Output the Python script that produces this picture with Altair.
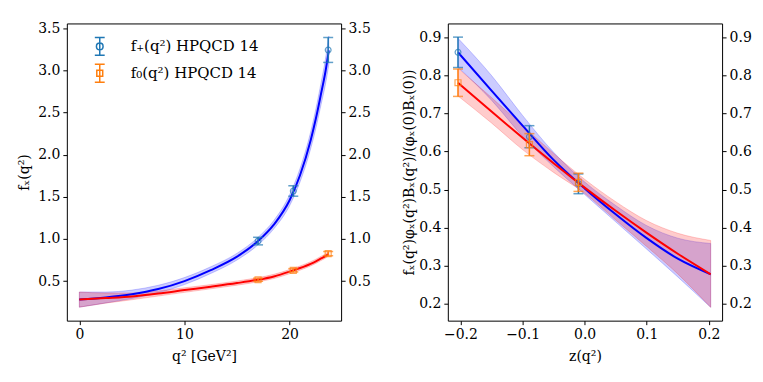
import altair as alt
import pandas as pd

# ---------------- data ----------------
# Left panel: form factors vs q^2
q2_grid = [0, 2.5, 5, 7.5, 10, 12.5, 15, 17, 18.5, 20, 21, 22, 22.5, 23, 23.4, 23.73]
fplus_fit = [0.28, 0.305, 0.343, 0.405, 0.50, 0.63, 0.79, 0.975, 1.17, 1.46, 1.76, 2.17, 2.43, 2.73, 2.98, 3.24]
fplus_lo = [0.19, 0.24, 0.293, 0.36, 0.458, 0.59, 0.75, 0.93, 1.12, 1.395, 1.68, 2.07, 2.315, 2.60, 2.83, 3.07]
fplus_hi = [0.37, 0.37, 0.393, 0.45, 0.542, 0.67, 0.83, 1.02, 1.22, 1.525, 1.84, 2.27, 2.545, 2.86, 3.13, 3.41]
fzero_fit = [0.28, 0.298, 0.318, 0.352, 0.393, 0.433, 0.476, 0.516, 0.555, 0.612, 0.655, 0.705, 0.735, 0.77, 0.797, 0.825]
fzero_lo = [0.19, 0.238, 0.278, 0.322, 0.366, 0.408, 0.451, 0.491, 0.53, 0.587, 0.63, 0.68, 0.71, 0.745, 0.772, 0.80]
fzero_hi = [0.37, 0.358, 0.358, 0.382, 0.42, 0.458, 0.501, 0.541, 0.58, 0.637, 0.68, 0.73, 0.76, 0.795, 0.822, 0.85]

q2_pts = [17.0, 20.35, 23.67]
fplus_pts = [0.975, 1.57, 3.245]
fplus_pts_err = [0.045, 0.062, 0.148]
fzero_pts = [0.516, 0.628, 0.826]
fzero_pts_err = [0.018, 0.02, 0.025]

# Right panel: vs z(q^2)
z_grid = [-0.204, -0.15, -0.1, -0.05, 0.0, 0.05, 0.1, 0.15, 0.203]
zplus_fit = [0.861, 0.76, 0.668, 0.578, 0.503, 0.435, 0.372, 0.318, 0.277]
zplus_lo = [0.822, 0.735, 0.64, 0.56, 0.487, 0.415, 0.343, 0.27, 0.19]
zplus_hi = [0.898, 0.80, 0.695, 0.598, 0.52, 0.458, 0.405, 0.372, 0.358]
zzero_fit = [0.781, 0.705, 0.636, 0.569, 0.505, 0.444, 0.386, 0.331, 0.277]
zzero_lo = [0.746, 0.675, 0.605, 0.545, 0.49, 0.42, 0.35, 0.278, 0.19]
zzero_hi = [0.819, 0.742, 0.668, 0.595, 0.527, 0.468, 0.418, 0.385, 0.366]

z_pts = [-0.204, -0.089, -0.010]
zplus_pts = [0.861, 0.639, 0.515]
zplus_pts_err = [0.04, 0.029, 0.026]
zzero_pts = [0.781, 0.618, 0.519]
zzero_pts_err = [0.036, 0.029, 0.024]

series_names = ["f₊(q²) HPQCD 14", "f₀(q²) HPQCD 14"]

# ---------------- styling ----------------
FONT = "'DejaVu Serif', 'Liberation Serif', serif"
FS = 14
C_PLUS = "#1f77b4"
C_ZERO = "#ff7f0e"
W, H = 275, 298

left_curve = pd.DataFrame({"x": q2_grid, "pf": fplus_fit, "plo": fplus_lo, "phi": fplus_hi,
                           "zf": fzero_fit, "zlo": fzero_lo, "zhi": fzero_hi})
right_curve = pd.DataFrame({"x": z_grid, "pf": zplus_fit, "plo": zplus_lo, "phi": zplus_hi,
                            "zf": zzero_fit, "zlo": zzero_lo, "zhi": zzero_hi})


def pts_df(x, v, e, name):
    return pd.DataFrame({"x": x, "v": v, "lo": [a - b for a, b in zip(v, e)],
                         "hi": [a + b for a, b in zip(v, e)], "series": name})


def panel(curve, pplus, pzero, xscale, yscale, xaxis, ytitle, ytickvals, with_legend, ytitle_pad):
    X = lambda: alt.X("x:Q", scale=xscale, axis=xaxis)
    yleft = alt.Axis(orient="left", values=ytickvals, format=".1f", title=ytitle,
                     titlePadding=ytitle_pad)
    yright = alt.Axis(orient="right", values=ytickvals, format=".1f", title=None)

    base = alt.Chart(curve)
    band_p = base.mark_area(fill="blue", fillOpacity=0.2, stroke="blue", strokeOpacity=0.2,
                            strokeWidth=1, interpolate="monotone").encode(
        x=X(), y=alt.Y("plo:Q", scale=yscale, axis=yleft), y2="phi:Q")
    band_z = base.mark_area(fill="red", fillOpacity=0.2, stroke="red", strokeOpacity=0.2,
                            strokeWidth=1, interpolate="monotone").encode(
        x=X(), y=alt.Y("zlo:Q", scale=yscale, axis=yright), y2="zhi:Q")
    line_p = base.mark_line(color="#0000ff", strokeWidth=2, interpolate="monotone").encode(
        x=X(), y=alt.Y("pf:Q", scale=yscale, axis=None))
    line_z = base.mark_line(color="#ff0000", strokeWidth=2, interpolate="monotone").encode(
        x=X(), y=alt.Y("zf:Q", scale=yscale, axis=None))

    layers = [band_p, band_z, line_p, line_z]
    for df, col, shape, sz in [(pplus, C_PLUS, "circle", 34), (pzero, C_ZERO, "square", 36)]:
        b = alt.Chart(df)
        layers.append(b.mark_rule(color=col, strokeWidth=1.5).encode(
            x=X(), y=alt.Y("lo:Q", scale=yscale, axis=None), y2="hi:Q"))
        layers.append(b.mark_tick(color=col, orient="horizontal", size=10, thickness=1.5).encode(
            x=X(), y=alt.Y("lo:Q", scale=yscale, axis=None)))
        layers.append(b.mark_tick(color=col, orient="horizontal", size=10, thickness=1.5).encode(
            x=X(), y=alt.Y("hi:Q", scale=yscale, axis=None)))
        layers.append(b.mark_point(color=col, shape=shape, size=sz, filled=False,
                                   strokeWidth=1.2).encode(
            x=X(), y=alt.Y("v:Q", scale=yscale, axis=None)))

    if with_legend:
        p_circle = ("M0,-1L0,1M-0.55,-1L0.55,-1M-0.55,1L0.55,1"
                    "M0.37,0A0.37,0.37,0,1,1,-0.37,0A0.37,0.37,0,1,1,0.37,0Z")
        p_square = ("M0,-1L0,1M-0.55,-1L0.55,-1M-0.55,1L0.55,1"
                    "M-0.33,-0.33L0.33,-0.33L0.33,0.33L-0.33,0.33Z")
        leg = alt.Legend(orient="none", legendX=23, legendY=13, title=None,
                         labelFont=FONT, labelFontSize=15, labelColor="black",
                         symbolSize=324, symbolStrokeWidth=1.5, symbolOpacity=1,
                         labelOffset=21, rowPadding=3, padding=0)
        both = pd.concat([pplus, pzero])
        layers.append(alt.Chart(both).mark_point(opacity=0, filled=False).encode(
            x=X(), y=alt.Y("v:Q", scale=yscale, axis=None),
            color=alt.Color("series:N", scale=alt.Scale(domain=series_names, range=[C_PLUS, C_ZERO]),
                            legend=leg, sort=series_names),
            shape=alt.Shape("series:N", scale=alt.Scale(domain=series_names, range=[p_circle, p_square]),
                            legend=leg, sort=series_names)))

    return alt.layer(*layers).resolve_axis(y="independent").properties(width=W, height=H)


left = panel(
    left_curve,
    pts_df(q2_pts, fplus_pts, fplus_pts_err, series_names[0]),
    pts_df(q2_pts, fzero_pts, fzero_pts_err, series_names[1]),
    alt.Scale(domain=[-1.19, 24.9], nice=False, zero=False),
    alt.Scale(domain=[0.03, 3.56], nice=False, zero=False),
    alt.Axis(values=[0, 10, 20], format="d", title="q² [GeV²]"),
    "fₓ(q²)", [0.5, 1.0, 1.5, 2.0, 2.5, 3.0, 3.5], True, 6)

right = panel(
    right_curve,
    pts_df(z_pts, zplus_pts, zplus_pts_err, series_names[0]),
    pts_df(z_pts, zzero_pts, zzero_pts_err, series_names[1]),
    alt.Scale(domain=[-0.2204, 0.2214], nice=False, zero=False),
    alt.Scale(domain=[0.155, 0.937], nice=False, zero=False),
    alt.Axis(values=[-0.2, -0.1, 0.0, 0.1, 0.2], format=".1f", title="z(q²)"),
    "fₓ(q²)φₓ(q²)Bₓ(q²)/(φₓ(0)Bₓ(0))", [0.2, 0.3, 0.4, 0.5, 0.6, 0.7, 0.8, 0.9], False, 2)

chart = alt.hconcat(left, right, spacing=31).properties(
    padding={"left": 9, "top": 12, "right": 3, "bottom": 3}
).configure_view(
    stroke="black", strokeWidth=1
).configure_axis(
    domain=False, grid=False, ticks=True, tickSize=4, tickColor="black", tickWidth=1,
    labelFont=FONT, labelFontSize=FS, labelColor="black", labelPadding=3,
    titleFont=FONT, titleFontSize=FS, titleColor="black", titleFontWeight="normal",
    labelFlush=False, labelOverlap=False
).configure_axisX(titlePadding=8)

chart.save("out.html", embed_options={"renderer": "svg", "actions": False})
